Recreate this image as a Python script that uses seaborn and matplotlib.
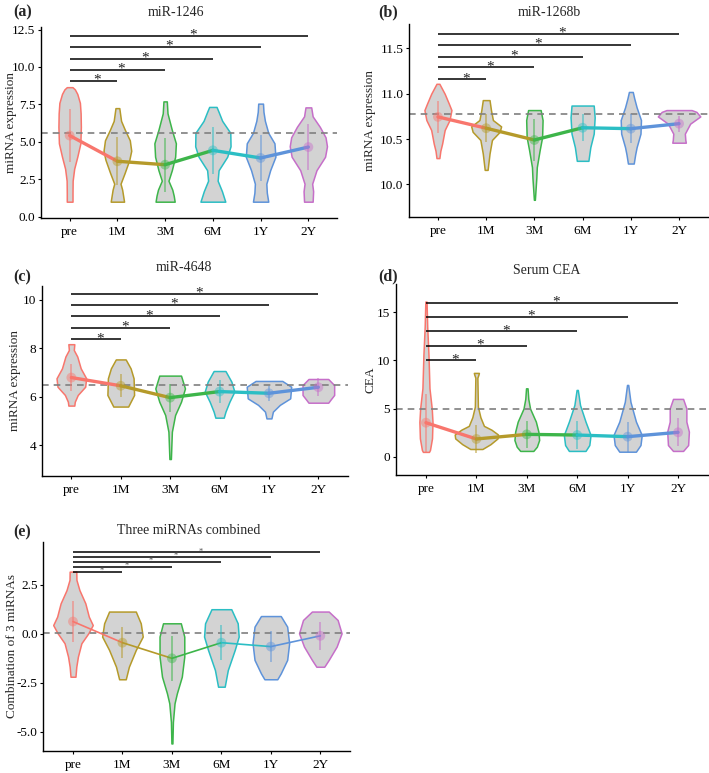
import numpy as np
import pandas as pd
import matplotlib
matplotlib.use('Agg')
import matplotlib.pyplot as plt
import seaborn as sns

groups = ['pre', '1M', '3M', '6M', '1Y', '2Y']
colors = ['#F8766D', '#B59A2A', '#3DB54A', '#2BBEC4', '#5E93DA', '#C66FC9']

# (a) miR-1246
a_mean = [5.42, 3.70, 3.47, 4.43, 3.92, 4.65]
a_sd = [1.75, 1.60, 1.80, 1.58, 1.55, 1.53]
a_ref = 5.56
a_bars = [9.07, 9.78, 10.53, 11.33, 12.07]
a_vy = [[1.0, 1.6, 2.4, 3.2, 4.0, 4.9, 6.0, 6.9, 7.6, 8.2, 8.5, 8.65],
        [1.0, 1.4, 1.8, 2.2, 2.9, 3.8, 4.4, 5.1, 5.8, 6.4, 7.25],
        [1.0, 1.4, 1.8, 2.4, 3.1, 4.0, 4.9, 5.8, 6.9, 7.7],
        [1.0, 1.7, 2.4, 3.1, 4.0, 4.7, 5.6, 6.4, 7.0, 7.33],
        [1.0, 1.6, 2.2, 3.1, 4.0, 4.9, 5.6, 6.4, 7.0, 7.55],
        [1.0, 1.7, 2.2, 3.1, 4.0, 4.7, 5.3, 6.0, 6.7, 7.3]]
a_vw = [[0.06, 0.06, 0.063, 0.095, 0.16, 0.225, 0.235, 0.23, 0.215, 0.16, 0.11, 0.06],
        [0.14, 0.12, 0.10, 0.066, 0.15, 0.25, 0.29, 0.26, 0.157, 0.077, 0.04],
        [0.20, 0.18, 0.15, 0.07, 0.14, 0.21, 0.225, 0.14, 0.05, 0.035],
        [0.26, 0.19, 0.10, 0.12, 0.30, 0.37, 0.365, 0.195, 0.12, 0.077],
        [0.16, 0.13, 0.12, 0.20, 0.31, 0.29, 0.16, 0.09, 0.06, 0.05],
        [0.09, 0.10, 0.08, 0.17, 0.35, 0.39, 0.36, 0.24, 0.09, 0.06]]

# (b) miR-1268b
b_mean = [10.745, 10.62, 10.49, 10.625, 10.615, 10.67]
b_sd = [0.175, 0.155, 0.23, 0.15, 0.16, 0.09]
b_ref = 10.775
b_bars = [11.16, 11.29, 11.41, 11.54, 11.66]
b_vy = [[10.29, 10.37, 10.45, 10.6, 10.71, 10.82, 10.89, 11.0, 11.06, 11.11],
        [10.16, 10.25, 10.34, 10.49, 10.58, 10.64, 10.71, 10.82, 10.93],
        [9.83, 9.95, 10.07, 10.19, 10.38, 10.52, 10.71, 10.82],
        [10.26, 10.41, 10.56, 10.74, 10.87],
        [10.23, 10.33, 10.41, 10.56, 10.71, 10.85, 10.95, 11.02],
        [10.46, 10.49, 10.56, 10.67, 10.75, 10.8, 10.82]]
b_vw = [[0.03, 0.05, 0.087, 0.14, 0.24, 0.28, 0.227, 0.14, 0.08, 0.03],
        [0.03, 0.05, 0.07, 0.12, 0.28, 0.31, 0.14, 0.10, 0.07],
        [0.01, 0.025, 0.04, 0.05, 0.11, 0.16, 0.17, 0.13],
        [0.12, 0.16, 0.23, 0.25, 0.23],
        [0.06, 0.09, 0.12, 0.20, 0.21, 0.12, 0.07, 0.04],
        [0.14, 0.13, 0.12, 0.23, 0.44, 0.36, 0.26]]

# (c) miR-4648
c_mean = [6.79, 6.45, 5.96, 6.21, 6.14, 6.39]
c_sd = [0.55, 0.48, 0.58, 0.48, 0.31, 0.38]
c_ref = 6.48
c_bars = [8.37, 8.86, 9.32, 9.79, 10.25]
c_vy = [[5.63, 5.79, 6.07, 6.41, 6.76, 7.17, 7.66, 7.93, 8.17],
        [5.59, 5.79, 6.07, 6.76, 7.17, 7.54],
        [3.42, 4.0, 4.55, 5.24, 5.79, 6.34, 6.87],
        [5.13, 5.38, 5.79, 6.21, 6.62, 7.06],
        [5.1, 5.38, 5.66, 5.93, 6.41, 6.65],
        [5.75, 5.86, 6.07, 6.48, 6.73]]
c_vw = [[0.06, 0.07, 0.13, 0.28, 0.30, 0.19, 0.12, 0.05, 0.06],
        [0.15, 0.20, 0.27, 0.26, 0.20, 0.10],
        [0.015, 0.025, 0.035, 0.10, 0.22, 0.30, 0.22],
        [0.085, 0.12, 0.20, 0.30, 0.24, 0.12],
        [0.05, 0.08, 0.22, 0.43, 0.45, 0.27],
        [0.20, 0.24, 0.32, 0.32, 0.20]]

# (d) Serum CEA
d_mean = [3.53, 1.84, 2.32, 2.25, 2.08, 2.53]
d_sd = [3.0, 1.5, 1.4, 1.45, 1.55, 1.47]
d_ref = 5.0
d_bars = [10.0, 11.5, 13.0, 14.5, 16.0]
d_vy = [[0.5, 0.7, 1.9, 3.6, 5.0, 7.1, 10.6, 13.5, 16.1],
        [0.8, 1.3, 1.9, 2.3, 2.8, 3.2, 4.1, 5.2, 8.2, 8.5, 8.7],
        [0.6, 1.04, 1.73, 2.6, 3.64, 5.0, 6.0, 7.1],
        [0.6, 1.21, 2.25, 3.64, 5.37, 6.93],
        [0.52, 1.21, 2.25, 3.64, 5.7, 7.45],
        [0.6, 1.21, 2.6, 3.64, 5.02, 6.0]]
d_vw = [[0.06, 0.08, 0.12, 0.13, 0.115, 0.07, 0.05, 0.025, 0.012],
        [0.12, 0.28, 0.42, 0.43, 0.30, 0.15, 0.08, 0.03, 0.02, 0.04, 0.05],
        [0.13, 0.20, 0.245, 0.23, 0.18, 0.065, 0.03, 0.015],
        [0.165, 0.24, 0.265, 0.165, 0.056, 0.012],
        [0.165, 0.255, 0.28, 0.165, 0.056, 0.012],
        [0.10, 0.20, 0.215, 0.165, 0.165, 0.10]]

# (e) Three miRNAs combined
e_mean = [0.63, -0.45, -1.25, -0.45, -0.65, -0.10]
e_sd = [1.05, 0.80, 1.14, 0.89, 0.80, 0.73]
e_ref = 0.06
e_bars = [3.18, 3.43, 3.68, 3.95, 4.17]
e_vy = [[-2.19, -1.68, -1.16, -0.48, 0.03, 0.45, 0.88, 1.56, 2.24, 2.76, 3.18],
        [-2.32, -1.68, -0.82, -0.14, 0.54, 1.14],
        [-5.6, -4.5, -3.55, -3.04, -2.19, -1.16, -0.14, 0.54],
        [-2.7, -1.85, -0.82, -0.14, 0.54, 1.26],
        [-2.32, -2.02, -1.33, -0.48, 0.37, 0.91],
        [-1.68, -1.33, -0.65, 0.03, 0.71, 1.14]]
e_vw = [[0.05, 0.067, 0.10, 0.17, 0.31, 0.40, 0.32, 0.25, 0.13, 0.07, 0.067],
        [0.067, 0.13, 0.27, 0.41, 0.37, 0.27],
        [0.01, 0.02, 0.053, 0.10, 0.20, 0.25, 0.25, 0.18],
        [0.067, 0.13, 0.27, 0.35, 0.33, 0.20],
        [0.13, 0.20, 0.33, 0.37, 0.33, 0.20],
        [0.08, 0.17, 0.33, 0.43, 0.35, 0.17]]

W, H = 709, 773

sns.set_theme(style='ticks')
plt.rcParams['font.family'] = ['Liberation Serif', 'DejaVu Serif']
plt.rcParams['axes.unicode_minus'] = False

fig = plt.figure(figsize=(W / 100, H / 100), dpi=100)


def box(l, t, r, b):
    return [l / W, 1 - b / H, (r - l) / W, (b - t) / H]


def panel(rect, vy, vw, mean, sd, ref, bars, ylim, yticks, ylabels, ylab,
          lab_x, line_w=2.4, star_size=11, star_col='#222222', star_dy=-2):
    ax = fig.add_axes(rect)
    x = np.arange(len(groups))
    # violins
    for i in x:
        y = np.array(vy[i])
        w = np.array(vw[i])
        ax.fill_betweenx(y, i - w, i + w, facecolor='#D3D3D3',
                         edgecolor=colors[i], lw=1.1, zorder=1)
    ax.axhline(ref, color='#7F7F7F', ls=(0, (4, 3)), lw=1.2, zorder=2)
    # mean +/- sd
    m = np.array(mean)
    s = np.array(sd)
    ax.vlines(x, m - s, m + s, colors=colors, lw=1.3, alpha=0.55, zorder=3)
    # segments between means, coloured by the starting group
    seg = pd.DataFrame({
        'x': np.concatenate([x[:-1], x[1:]]),
        'y': np.concatenate([m[:-1], m[1:]]),
        'seg': np.concatenate([x[:-1], x[:-1]]),
    })
    sns.lineplot(data=seg, x='x', y='y', hue='seg', palette=colors[:5],
                 estimator=None, sort=False, lw=line_w, legend=False,
                 ax=ax, zorder=4)
    sns.scatterplot(x=x, y=m, hue=groups, palette=colors, s=50, alpha=0.45,
                    edgecolor='none', legend=False, ax=ax, zorder=5)
    # significance brackets pre vs. each time point
    for j, yb in enumerate(bars):
        ax.plot([0, j + 1], [yb, yb], color='black', lw=1.1,
                solid_capstyle='butt', zorder=6)
        ax.annotate('*', xy=((j + 1) / 2 + 0.08, yb), xytext=(0, star_dy),
                    textcoords='offset points', ha='center', va='baseline',
                    fontsize=star_size, color=star_col, zorder=7)
    ax.set_xlim(-0.6, 5.6)
    ax.set_ylim(*ylim)
    ax.set_xticks(x, groups)
    ax.set_yticks(yticks, ylabels)
    ax.set_xlabel('')
    ax.set_ylabel(ylab, fontsize=9.5)
    l = rect[0] * W
    wd = rect[2] * W
    ax.yaxis.set_label_coords((lab_x - l) / wd, 0.5)
    ax.tick_params(length=2.5, width=0.8, pad=1.5, labelsize=9.5,
                   colors='black')
    ax.tick_params(axis='x', pad=3.5)
    for sp in ['left', 'bottom']:
        ax.spines[sp].set_linewidth(1.0)
        ax.spines[sp].set_color('black')
    sns.despine(ax=ax)
    return ax


panel(box(41, 27, 337, 218), a_vy, a_vw, a_mean, a_sd, a_ref, a_bars,
      (-0.09, 12.67), [0, 2.5, 5, 7.5, 10, 12.5],
      ['0.0', '2.5', '5.0', '7.5', '10.0', '12.5'], 'miRNA expression', 17)
panel(box(409, 24, 708, 217), b_vy, b_vw, b_mean, b_sd, b_ref, b_bars,
      (9.64, 11.77), [10.0, 10.5, 11.0, 11.5],
      ['10.0', '10.5', '11.0', '11.5'], 'miRNA expression', 376)
panel(box(41.7, 285.7, 348, 475.7), c_vy, c_vw, c_mean, c_sd, c_ref, c_bars,
      (2.73, 10.59), [4, 6, 8, 10], ['4', '6', '8', '10'],
      'miRNA expression', 21)
panel(box(395.7, 284.3, 708.3, 475), d_vy, d_vw, d_mean, d_sd, d_ref, d_bars,
      (-1.9, 17.9), [0, 5, 10, 15], ['0', '5', '10', '15'], 'CEA', 376)
panel(box(43.3, 541.7, 350, 750.7), e_vy, e_vw, e_mean, e_sd, e_ref, e_bars,
      (-5.97, 4.71), [-5, -2.5, 0, 2.5], ['-5.0', '-2.5', '0.0', '2.5'],
      'Combination of 3 miRNAs', 18, line_w=1.2, star_size=6,
      star_col='#555555', star_dy=-1)

titles = ['miR-1246', 'miR-1268b', 'miR-4648', 'Serum CEA',
          'Three miRNAs combined']
title_xy = [(176, 12), (549, 12), (184, 268), (547, 270), (189, 531)]
tags = ['(a)', '(b)', '(c)', '(d)', '(e)']
tag_xy = [(22.5, 12), (388, 12), (22.5, 277), (388, 276), (22.5, 532)]
for t, (tx, ty) in zip(titles, title_xy):
    fig.text(tx / W, 1 - ty / H, t, ha='center', va='center', fontsize=10)
for t, (tx, ty) in zip(tags, tag_xy):
    fig.text(tx / W, 1 - ty / H, t, ha='center', va='center', fontsize=11.5,
             fontweight='bold')

fig.savefig('out.png', dpi=100)
